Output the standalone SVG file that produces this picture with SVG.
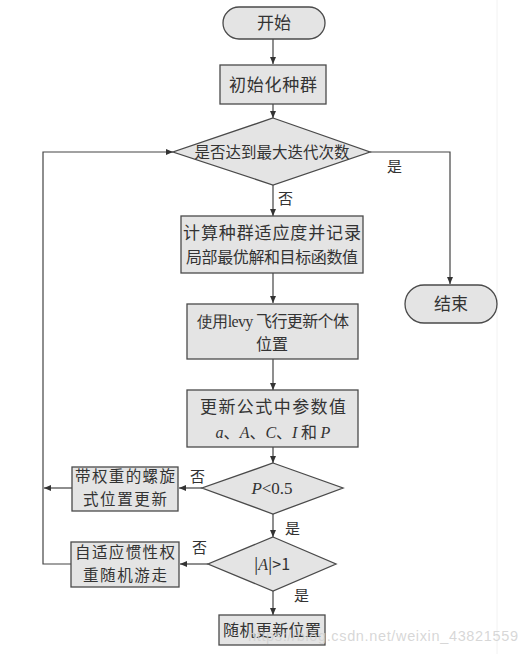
<svg xmlns="http://www.w3.org/2000/svg" width="529" height="654" viewBox="0 0 529 654">
<style>
.shape{fill:#e4e4e4;stroke:#4a4a4a;stroke-width:1.3}
.t{font-family:"Noto Sans CJK SC","Liberation Serif",serif;fill:#333;text-anchor:middle}
.lbl{font-family:"Noto Sans CJK SC",sans-serif;fill:#333;font-size:15px}
.it{font-family:"Liberation Serif",serif;font-style:italic}
.c{fill:none;stroke:#444;stroke-width:1.2}
</style>
<defs>
<marker id="arr" markerWidth="8" markerHeight="8" refX="7" refY="4" orient="auto" markerUnits="userSpaceOnUse">
<path d="M0,1 L7,4 L0,7 Z" fill="#333"/>
</marker>
</defs>
<rect width="529" height="654" fill="#fff"/>
<line x1="497" y1="0" x2="497" y2="654" stroke="#f2f2f2" stroke-width="1"/>

<g id="connectors">
<line class="c" x1="273" y1="39" x2="273" y2="64" marker-end="url(#arr)"/>
<line class="c" x1="273" y1="104" x2="273" y2="118" marker-end="url(#arr)"/>
<line class="c" x1="273" y1="185" x2="273" y2="216" marker-end="url(#arr)"/>
<polyline class="c" points="370,152 450,152 450,284" marker-end="url(#arr)"/>
<line class="c" x1="273" y1="273" x2="273" y2="303" marker-end="url(#arr)"/>
<line class="c" x1="273" y1="359" x2="273" y2="390" marker-end="url(#arr)"/>
<line class="c" x1="273" y1="447" x2="273" y2="463" marker-end="url(#arr)"/>
<line class="c" x1="202" y1="488" x2="179" y2="488" marker-end="url(#arr)"/>
<line class="c" x1="72" y1="488" x2="44" y2="488" marker-end="url(#arr)"/>
<line class="c" x1="273" y1="514" x2="273" y2="537" marker-end="url(#arr)"/>
<line class="c" x1="208" y1="564" x2="180" y2="564" marker-end="url(#arr)"/>
<polyline class="c" points="71,564 43,564 43,152 173,152" marker-end="url(#arr)"/>
<line class="c" x1="273" y1="591" x2="273" y2="615" marker-end="url(#arr)"/>
<text class="lbl" x="278" y="204">否</text>
<text class="lbl" x="387" y="172">是</text>
<text class="lbl" x="190" y="482">否</text>
<text class="lbl" x="285" y="534">是</text>
<text class="lbl" x="192" y="553">否</text>
<text class="lbl" x="294" y="601">是</text>
</g>

<g id="start">
<rect class="shape" x="223" y="7" width="102" height="32" rx="16"/>
<text class="t" x="274" y="29" font-size="17">开始</text>
</g>
<g id="init">
<rect class="shape" x="220" y="65" width="106" height="39"/>
<text class="t" x="273" y="91" font-size="17" textLength="88">初始化种群</text>
</g>
<g id="check-iter">
<polygon class="shape" points="273,118 370,152 273,185 173,152"/>
<text class="t" x="272" y="158" font-size="15.5" textLength="155">是否达到最大迭代次数</text>
</g>
<g id="end">
<rect class="shape" x="405" y="285" width="92" height="38" rx="19"/>
<text class="t" x="451" y="310" font-size="17">结束</text>
</g>
<g id="fitness">
<rect class="shape" x="181" y="216" width="182" height="57"/>
<text class="t" x="272" y="239" font-size="17" textLength="178">计算种群适应度并记录</text>
<text class="t" x="272" y="263" font-size="16" textLength="172">局部最优解和目标函数值</text>
</g>
<g id="levy">
<rect class="shape" x="187" y="304" width="171" height="55"/>
<text class="t" x="273" y="327" font-size="16" textLength="152"><tspan font-family="Liberation Serif">使用levy </tspan>飞行更新个体</text>
<text class="t" x="272" y="350" font-size="16">位置</text>
</g>
<g id="params">
<rect class="shape" x="187" y="390" width="171" height="57"/>
<text class="t" x="273" y="413" font-size="17" textLength="146">更新公式中参数值</text>
<text class="t" x="273" y="438" font-size="16"><tspan class="it">a</tspan>、<tspan class="it">A</tspan>、<tspan class="it">C</tspan>、<tspan class="it">I</tspan> 和 <tspan class="it">P</tspan></text>
</g>
<g id="p-check">
<polygon class="shape" points="273,463 343,488 273,514 202,488"/>
<text class="t" x="272" y="494" font-size="17"><tspan class="it">P</tspan><tspan font-family="Liberation Serif">&lt;0.5</tspan></text>
</g>
<g id="spiral">
<rect class="shape" x="72" y="467" width="106" height="44"/>
<text class="t" x="125" y="482" font-size="15.5" textLength="100">带权重的螺旋</text>
<text class="t" x="125" y="505" font-size="15.5" textLength="84">式位置更新</text>
</g>
<g id="a-check">
<polygon class="shape" points="273,537 336,564 273,591 208,564"/>
<text class="t" x="272" y="570" font-size="16" font-family="Liberation Serif">|<tspan class="it">A</tspan>|&gt;1</text>
</g>
<g id="walk">
<rect class="shape" x="71" y="542" width="108" height="45"/>
<text class="t" x="125" y="558" font-size="15.5" textLength="100">自适应惯性权</text>
<text class="t" x="125" y="581" font-size="15.5" textLength="84">重随机游走</text>
</g>
<g id="random">
<rect class="shape" x="219" y="615" width="106" height="30"/>
<text class="t" x="272" y="636" font-size="16" textLength="98">随机更新位置</text>
</g>
<text x="248" y="641" font-family="Liberation Sans, sans-serif" font-size="14.5" fill="#d0d0d0" fill-opacity="0.85" textLength="270">https://blog.csdn.net/weixin_43821559</text>
</svg>
